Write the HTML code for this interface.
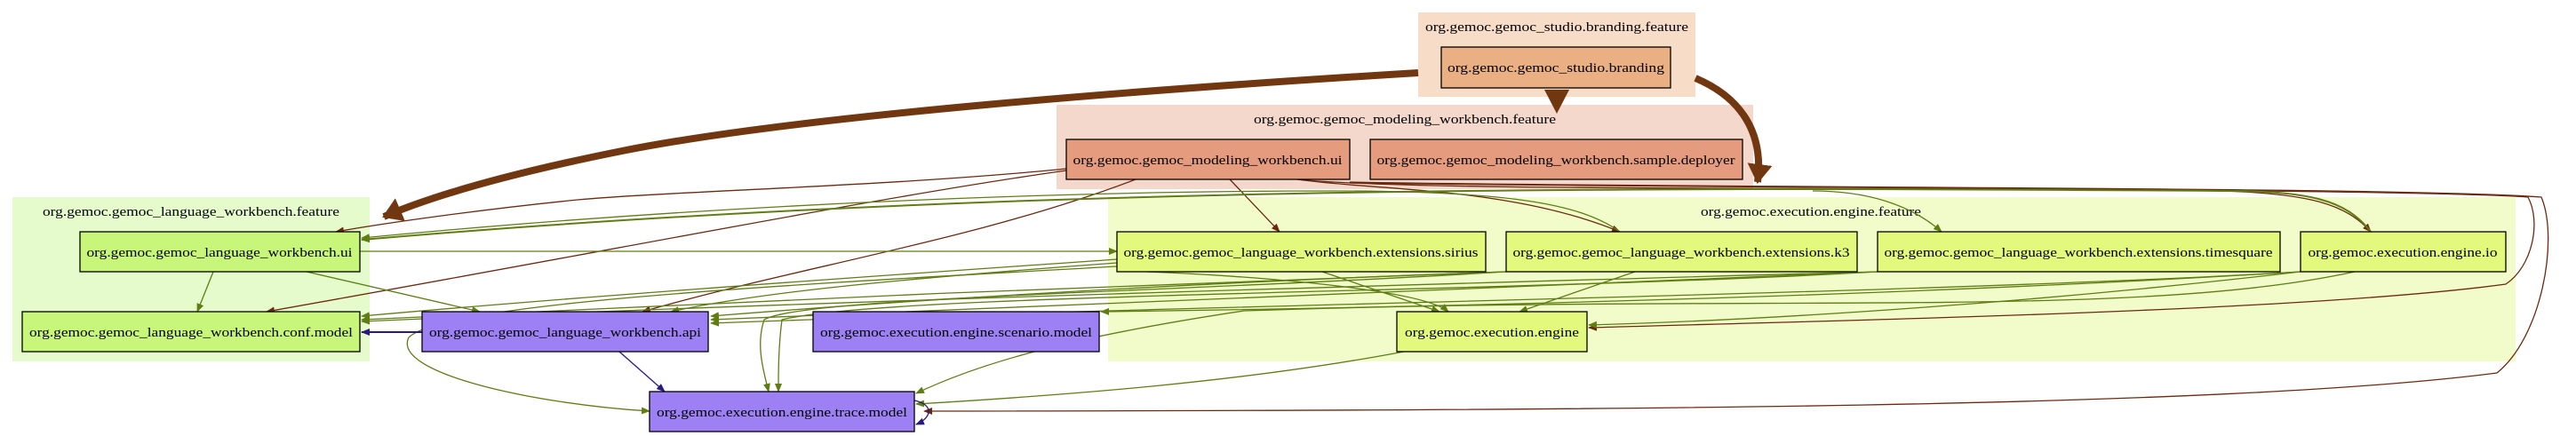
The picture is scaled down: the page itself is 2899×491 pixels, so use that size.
<!DOCTYPE html>
<html><head><meta charset="utf-8"><style>
html,body{margin:0;padding:0;background:#fff;width:2899px;height:491px;overflow:hidden}
text{font-family:"Liberation Serif",serif;font-size:15px;fill:#000}
</style></head><body>
<svg width="2899" height="491" viewBox="0 0 2899 491" xmlns="http://www.w3.org/2000/svg">
<defs>
<marker id="g" markerWidth="10" markerHeight="8" refX="9" refY="4" orient="auto" markerUnits="userSpaceOnUse"><path d="M0,0L10,4L0,8z" fill="#5f7d13"/></marker>
<marker id="b" markerWidth="10" markerHeight="8" refX="9" refY="4" orient="auto" markerUnits="userSpaceOnUse"><path d="M0,0L10,4L0,8z" fill="#6b2a10"/></marker>
<marker id="p" markerWidth="10" markerHeight="8" refX="9" refY="4" orient="auto" markerUnits="userSpaceOnUse"><path d="M0,0L10,4L0,8z" fill="#2a1a80"/></marker>
<marker id="B" markerWidth="22" markerHeight="28" refX="20" refY="14" orient="auto" markerUnits="userSpaceOnUse"><path d="M0,0L22,14L0,28z" fill="#713711"/></marker>
</defs>
<!-- clusters -->
<rect x="1596" y="14" width="312" height="95" fill="#f7dcc8"/>
<text x="1752" y="35" text-anchor="middle" textLength="296" lengthAdjust="spacingAndGlyphs">org.gemoc.gemoc_studio.branding.feature</text>
<rect x="1189" y="118" width="784" height="95" fill="#f3d8cb"/>
<text x="1581" y="139" text-anchor="middle" textLength="340" lengthAdjust="spacingAndGlyphs">org.gemoc.gemoc_modeling_workbench.feature</text>
<rect x="14" y="222" width="402" height="185" fill="#e6fbcc"/>
<text x="215" y="243" text-anchor="middle" textLength="334" lengthAdjust="spacingAndGlyphs">org.gemoc.gemoc_language_workbench.feature</text>
<rect x="1247" y="222" width="1584" height="185" fill="#f2fccb"/>
<text x="2038" y="243" text-anchor="middle" textLength="248" lengthAdjust="spacingAndGlyphs">org.gemoc.execution.engine.feature</text>

<!-- edges -->
<g fill="none" stroke-width="1.3">
<path d="M1200,190 C1000,210 760,215 650,225 C550,235 440,250 378,261" stroke="#6b2a10" marker-end="url(#b)"/>
<path d="M1200,192 C1000,220 700,280 300,351" stroke="#6b2a10" marker-end="url(#b)"/>
<path d="M1278,202 C1100,270 900,300 723,351" stroke="#6b2a10" marker-end="url(#b)"/>
<path d="M1384,202 L1440,261" stroke="#6b2a10" marker-end="url(#b)"/>
<path d="M1460,202 C1550,215 1700,210 1823,261" stroke="#6b2a10" marker-end="url(#b)"/>
<path d="M1460,202 C1600,216 2100,210 2500,215 C2600,218 2640,230 2668,261" stroke="#6b2a10" marker-end="url(#b)"/>
<path d="M1519,205 C1900,212 2700,210 2860,222 C2880,270 2860,380 2810,420 C2500,460 1800,462 1040,463" stroke="#6b2a10" marker-end="url(#b)"/>
<path d="M1519,206 C1900,212 2700,212 2845,222 C2860,250 2850,300 2820,320 C2600,350 2100,360 1788,369" stroke="#6b2a10" marker-end="url(#b)"/>
<!-- thick brown -->
<path d="M1596,82 C1300,100 900,130 700,170 C600,190 500,215 432,244" stroke="#713711" stroke-width="8" marker-end="url(#B)"/>
<polygon points="1738,101 1766,101 1752,128" fill="#713711"/>
<path d="M1908,88 C1960,110 1985,150 1978,205" stroke="#713711" stroke-width="8" marker-end="url(#B)"/>
<!-- green -->
<path d="M405,283 L1257,283" stroke="#5f7d13" marker-end="url(#g)"/>
<path d="M240,306 L222,351" stroke="#5f7d13" marker-end="url(#g)"/>
<path d="M345,306 L540,351" stroke="#5f7d13" marker-end="url(#g)"/>
<path d="M2668,261 C2640,225 2600,215 2500,215 C1800,210 1100,210 407,270" stroke="#5f7d13" stroke-width="2" marker-end="url(#g)"/>
<path d="M1823,261 C1780,230 1700,215 1500,215 C1200,215 800,230 407,268" stroke="#5f7d13" marker-end="url(#g)"/>
<path d="M2040,215 C2100,215 2150,230 2185,261" stroke="#5f7d13" marker-end="url(#g)"/>
<path d="M1257,292 C1000,310 700,330 407,356" stroke="#5f7d13" marker-end="url(#g)"/>
<path d="M1695,306 C1300,320 800,340 407,360" stroke="#5f7d13" marker-end="url(#g)"/>
<path d="M2113,306 C1600,320 900,340 407,362" stroke="#5f7d13" marker-end="url(#g)"/>
<path d="M1257,296 C1000,315 850,330 755,351" stroke="#5f7d13" marker-end="url(#g)"/>
<path d="M1695,306 C1300,320 1000,340 800,356" stroke="#5f7d13" marker-end="url(#g)"/>
<path d="M2113,306 C1700,325 1100,345 800,360" stroke="#5f7d13" marker-end="url(#g)"/>
<path d="M2589,306 C2200,330 1300,345 800,364" stroke="#5f7d13" marker-end="url(#g)"/>
<path d="M2589,306 C2200,330 1700,345 1239,351" stroke="#5f7d13" marker-end="url(#g)"/>
<path d="M1290,306 C1400,310 1600,325 1630,351" stroke="#5f7d13" marker-end="url(#g)"/>
<path d="M1488,306 L1620,351" stroke="#5f7d13" marker-end="url(#g)"/>
<path d="M1840,306 L1710,351" stroke="#5f7d13" marker-end="url(#g)"/>
<path d="M2589,306 C2300,340 2000,360 1788,366" stroke="#5f7d13" marker-end="url(#g)"/>
<path d="M1257,300 C900,320 500,340 460,380 C440,420 600,455 731,463" stroke="#5f7d13" marker-end="url(#g)"/>
<path d="M1695,306 C1300,330 900,335 860,360 C850,390 860,420 865,441" stroke="#5f7d13" marker-end="url(#g)"/>
<path d="M2113,306 C1700,330 1000,330 880,360 C876,390 876,420 876,441" stroke="#5f7d13" marker-end="url(#g)"/>
<path d="M2650,306 C2400,360 2000,330 1400,350 C1200,380 1100,410 1031,443" stroke="#5f7d13" marker-end="url(#g)"/>
<path d="M1580,396 C1400,430 1200,445 1031,455" stroke="#5f7d13" marker-end="url(#g)"/>
<!-- blue -->
<path d="M475,374 L407,374" stroke="#2a1a80" stroke-width="2" marker-end="url(#p)"/>
<path d="M697,396 L748,441" stroke="#2a1a80" marker-end="url(#p)"/>
<path d="M1029,451 C1050,455 1050,470 1031,478" stroke="#2a1a80" marker-end="url(#p)"/>
</g>

<!-- nodes -->
<g stroke="#000" stroke-width="1.3">
<rect x="1622" y="53" width="258" height="46" fill="#eab083"/>
<rect x="1200" y="157" width="319" height="45" fill="#e59b7e"/>
<rect x="1542" y="157" width="419" height="45" fill="#e59b7e"/>
<rect x="90" y="261" width="315" height="45" fill="#c8f67b"/>
<rect x="25" y="351" width="380" height="45" fill="#c8f67b"/>
<rect x="475" y="351" width="322" height="45" fill="#9e80f5"/>
<rect x="915" y="351" width="322" height="45" fill="#9e80f5"/>
<rect x="731" y="441" width="298" height="45" fill="#9e80f5"/>
<rect x="1257" y="261" width="415" height="45" fill="#e2f97e"/>
<rect x="1695" y="261" width="395" height="45" fill="#e2f97e"/>
<rect x="2113" y="261" width="453" height="45" fill="#e2f97e"/>
<rect x="2589" y="261" width="231" height="45" fill="#e2f97e"/>
<rect x="1572" y="351" width="214" height="45" fill="#e2f97e"/>
</g>
<g text-anchor="middle">
<text x="1751" y="81" textLength="244" lengthAdjust="spacingAndGlyphs">org.gemoc.gemoc_studio.branding</text>
<text x="1359" y="185" textLength="303" lengthAdjust="spacingAndGlyphs">org.gemoc.gemoc_modeling_workbench.ui</text>
<text x="1751" y="185" textLength="403" lengthAdjust="spacingAndGlyphs">org.gemoc.gemoc_modeling_workbench.sample.deployer</text>
<text x="247" y="289" textLength="299" lengthAdjust="spacingAndGlyphs">org.gemoc.gemoc_language_workbench.ui</text>
<text x="215" y="379" textLength="364" lengthAdjust="spacingAndGlyphs">org.gemoc.gemoc_language_workbench.conf.model</text>
<text x="636" y="379" textLength="306" lengthAdjust="spacingAndGlyphs">org.gemoc.gemoc_language_workbench.api</text>
<text x="1076" y="379" textLength="306" lengthAdjust="spacingAndGlyphs">org.gemoc.execution.engine.scenario.model</text>
<text x="880" y="469" textLength="282" lengthAdjust="spacingAndGlyphs">org.gemoc.execution.engine.trace.model</text>
<text x="1464" y="289" textLength="399" lengthAdjust="spacingAndGlyphs">org.gemoc.gemoc_language_workbench.extensions.sirius</text>
<text x="1892" y="289" textLength="379" lengthAdjust="spacingAndGlyphs">org.gemoc.gemoc_language_workbench.extensions.k3</text>
<text x="2339" y="289" textLength="437" lengthAdjust="spacingAndGlyphs">org.gemoc.gemoc_language_workbench.extensions.timesquare</text>
<text x="2704" y="289" textLength="213" lengthAdjust="spacingAndGlyphs">org.gemoc.execution.engine.io</text>
<text x="1679" y="379" textLength="196" lengthAdjust="spacingAndGlyphs">org.gemoc.execution.engine</text>
</g>
</svg>
</body></html>
